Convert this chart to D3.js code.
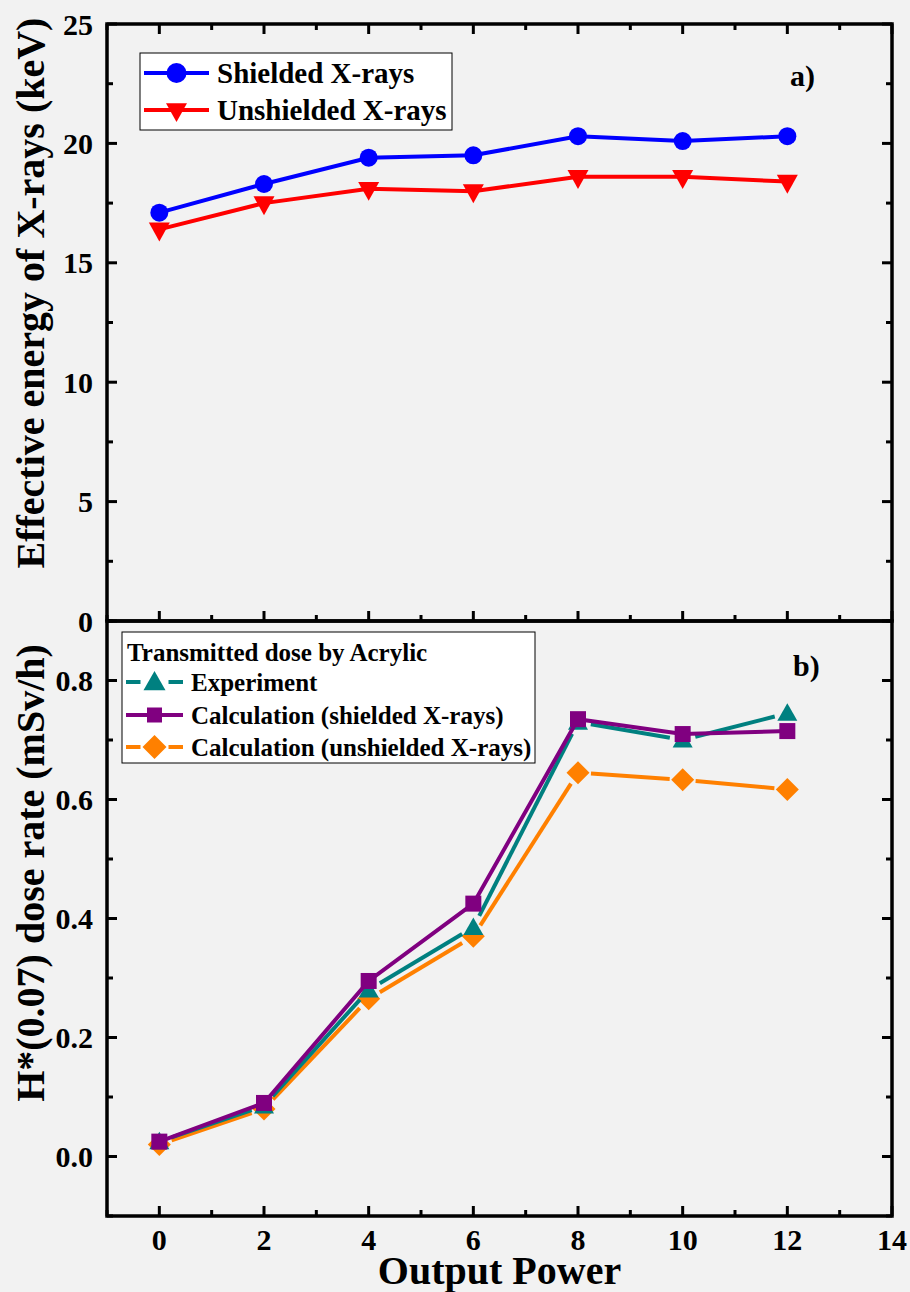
<!DOCTYPE html>
<html>
<head>
<meta charset="utf-8">
<script src="https://cdn.jsdelivr.net/npm/d3@7"></script>
<style>
  body { margin: 0; background: #f2f2f2; }
</style>
</head>
<body>
<div id="chart"></div>
<script>
// shared x values (output power)
const power = [0, 2, 4, 6, 8, 10, 12];

// panel a: effective energy (keV)
const shieldedKeV = [17.1, 18.3, 19.4, 19.5, 20.3, 20.1, 20.3];
const unshieldedKeV = [16.4, 17.5, 18.1, 18.0, 18.6, 18.6, 18.4];

// panel b: H*(0.07) dose rate (mSv/h)
const experiment = [0.025, 0.085, 0.28, 0.385, 0.73, 0.70, 0.745];
const calcShielded = [0.025, 0.09, 0.295, 0.425, 0.735, 0.71, 0.715];
const calcUnshielded = [0.02, 0.08, 0.265, 0.37, 0.645, 0.633, 0.617];

const xTicks = [0, 2, 4, 6, 8, 10, 12, 14];
const yTicksA = [0, 5, 10, 15, 20, 25];
const yTicksB = [0.0, 0.2, 0.4, 0.6, 0.8];

const W = 910, H = 1292;
const left = 107, right = 892;
const topA = 24, midY = 621, botB = 1216;

const svg = d3.select("#chart").append("svg")
    .attr("width", W).attr("height", H)
    .style("background", "#f2f2f2");

const x = d3.scaleLinear().domain([-1, 14]).range([left, right]);
const yA = d3.scaleLinear().domain([0, 25]).range([midY, topA]);
const yB = d3.scaleLinear().domain([-0.1, 0.9]).range([botB, midY]);

// markers
function marker(g, type, size, color) {
    if (type === "circle") {
        g.append("circle").attr("r", size).attr("fill", color);
    } else if (type === "tri-down") {
        g.append("path").attr("d", `M${-size},${-size*0.65}L${size},${-size*0.65}L0,${size*1.15}Z`).attr("fill", color);
    } else if (type === "tri-up") {
        g.append("path").attr("d", `M${-size},${size*0.75}L${size},${size*0.75}L0,${-size*1.0}Z`).attr("fill", color);
    } else if (type === "square") {
        g.append("rect").attr("x", -size).attr("y", -size).attr("width", 2*size).attr("height", 2*size).attr("fill", color);
    } else if (type === "diamond") {
        g.append("path").attr("d", `M0,${-size}L${size},0L0,${size}L${-size},0Z`).attr("fill", color);
    }
}

function drawSeries(y, values, s) {
    const pts = power.map((p, i) => [x(p), y(values[i])]);
    const g = svg.append("g");
    if (s.gap) {
        // line segments with a gap around each symbol
        for (let i = 0; i < pts.length - 1; i++) {
            const [x1, y1] = pts[i], [x2, y2] = pts[i + 1];
            const len = Math.hypot(x2 - x1, y2 - y1);
            const ux = (x2 - x1) / len, uy = (y2 - y1) / len;
            g.append("line")
                .attr("x1", x1 + ux * s.gap).attr("y1", y1 + uy * s.gap)
                .attr("x2", x2 - ux * s.gap).attr("y2", y2 - uy * s.gap)
                .attr("stroke", s.color).attr("stroke-width", 4);
        }
    } else {
        g.append("path")
            .attr("d", d3.line()(pts))
            .attr("fill", "none").attr("stroke", s.color).attr("stroke-width", 4);
    }
    pts.forEach(p => {
        marker(g.append("g").attr("transform", `translate(${p[0]},${p[1]})`), s.type, s.size, s.color);
    });
}

// ---- frames and ticks ----
function frame(y0, y1) {
    svg.append("rect")
        .attr("x", left).attr("y", y0).attr("width", right - left).attr("height", y1 - y0)
        .attr("fill", "none").attr("stroke", "#000").attr("stroke-width", 3.5);
}
frame(topA, midY);
frame(midY, botB);

function xTickMarks(yLine, dir) {
    // dir = -1 : ticks go up, +1 : ticks go down
    d3.range(-1, 15, 1).forEach(v => {
        const major = v % 2 === 0;
        const len = major ? 10 : 6;
        svg.append("line")
            .attr("x1", x(v)).attr("x2", x(v))
            .attr("y1", yLine).attr("y2", yLine + dir * len)
            .attr("stroke", "#000").attr("stroke-width", 3);
    });
}
xTickMarks(topA, 1);
xTickMarks(midY, -1);
xTickMarks(botB, -1);

function yTickMarks(y, vals, minorVals) {
    vals.forEach(v => {
        [[left, 1], [right, -1]].forEach(([xx, d]) => {
            svg.append("line").attr("x1", xx).attr("x2", xx + d * 10)
                .attr("y1", y(v)).attr("y2", y(v)).attr("stroke", "#000").attr("stroke-width", 3);
        });
    });
    minorVals.forEach(v => {
        [[left, 1], [right, -1]].forEach(([xx, d]) => {
            svg.append("line").attr("x1", xx).attr("x2", xx + d * 6)
                .attr("y1", y(v)).attr("y2", y(v)).attr("stroke", "#000").attr("stroke-width", 3);
        });
    });
}
yTickMarks(yA, yTicksA, [2.5, 7.5, 12.5, 17.5, 22.5]);
yTickMarks(yB, yTicksB, [-0.1, 0.1, 0.3, 0.5, 0.7, 0.9]);

// tick labels
svg.append("g").selectAll("text").data(yTicksA).join("text")
    .attr("x", left - 14).attr("y", d => yA(d)).attr("dy", "0.35em")
    .attr("text-anchor", "end").attr("font-size", 30)
    .text(d => d);
svg.append("g").selectAll("text").data(yTicksB).join("text")
    .attr("x", left - 14).attr("y", d => yB(d)).attr("dy", "0.35em")
    .attr("text-anchor", "end").attr("font-size", 30)
    .text(d => d.toFixed(1));
svg.append("g").selectAll("text").data(xTicks).join("text")
    .attr("x", d => x(d)).attr("y", 1250)
    .attr("text-anchor", "middle").attr("font-size", 30)
    .text(d => d);

// axis titles
svg.append("text").attr("x", (left + right) / 2).attr("y", 1284)
    .attr("text-anchor", "middle").attr("font-size", 40).text("Output Power");
svg.append("text").attr("transform", `translate(44,293) rotate(-90)`)
    .attr("text-anchor", "middle").attr("font-size", 40).text("Effective energy of X-rays (keV)");
svg.append("text").attr("transform", `translate(44,873) rotate(-90)`)
    .attr("text-anchor", "middle").attr("font-size", 40).text("H*(0.07) dose rate (mSv/h)");

// panel labels
svg.append("text").attr("x", 790).attr("y", 86).attr("font-size", 30).text("a)");
svg.append("text").attr("x", 793).attr("y", 676).attr("font-size", 30).text("b)");

// ---- series ----
const sShielded = { color: "#0000ff", type: "circle", size: 9 };
const sUnshielded = { color: "#ff0000", type: "tri-down", size: 10.5 };
const sExp = { color: "#008080", type: "tri-up", size: 10, gap: 13 };
const sCalcS = { color: "#800080", type: "square", size: 8 };
const sCalcU = { color: "#ff8000", type: "diamond", size: 11.5, gap: 13 };

drawSeries(yA, shieldedKeV, sShielded);
drawSeries(yA, unshieldedKeV, sUnshielded);
drawSeries(yB, calcUnshielded, sCalcU);
drawSeries(yB, experiment, sExp);
drawSeries(yB, calcShielded, sCalcS);

// ---- legends ----
function legendEntry(lx, ly, lineLen, s, label, fs) {
    const g = svg.append("g");
    const mid = lx + lineLen / 2;
    if (s.gap) {
        g.append("line").attr("x1", lx).attr("x2", mid - 14).attr("y1", ly).attr("y2", ly)
            .attr("stroke", s.color).attr("stroke-width", 4);
        g.append("line").attr("x1", mid + 14).attr("x2", lx + lineLen).attr("y1", ly).attr("y2", ly)
            .attr("stroke", s.color).attr("stroke-width", 4);
    } else {
        g.append("line").attr("x1", lx).attr("x2", lx + lineLen).attr("y1", ly).attr("y2", ly)
            .attr("stroke", s.color).attr("stroke-width", 4);
    }
    marker(g.append("g").attr("transform", `translate(${mid},${ly})`), s.type, s.size, s.color);
    g.append("text").attr("x", lx + lineLen + 8).attr("y", ly).attr("dy", "0.35em")
        .attr("font-size", fs).text(label);
}

svg.append("rect").attr("x", 140).attr("y", 53).attr("width", 312).attr("height", 77)
    .attr("fill", "#fff").attr("stroke", "#000").attr("stroke-width", 1);
legendEntry(144, 73, 65, { ...sShielded, size: 10 }, "Shielded X-rays", 29);
legendEntry(144, 110, 65, sUnshielded, "Unshielded X-rays", 29);

svg.append("rect").attr("x", 122).attr("y", 632).attr("width", 413).attr("height", 131)
    .attr("fill", "#fff").attr("stroke", "#000").attr("stroke-width", 1);
svg.append("text").attr("x", 127).attr("y", 652).attr("dy", "0.35em")
    .attr("font-size", 25).text("Transmitted dose by Acrylic");
legendEntry(126, 682, 57, { ...sExp, size: 11 }, "Experiment", 25);
legendEntry(126, 715, 57, { ...sCalcS, size: 7.5 }, "Calculation (shielded X-rays)", 25);
legendEntry(126, 747, 57, { ...sCalcU, size: 12 }, "Calculation (unshielded X-rays)", 25);

// serif bold everywhere
svg.selectAll("text")
    .attr("font-family", "Liberation Serif")
    .attr("font-weight", "bold")
    .attr("fill", "#000");
</script>
</body>
</html>
